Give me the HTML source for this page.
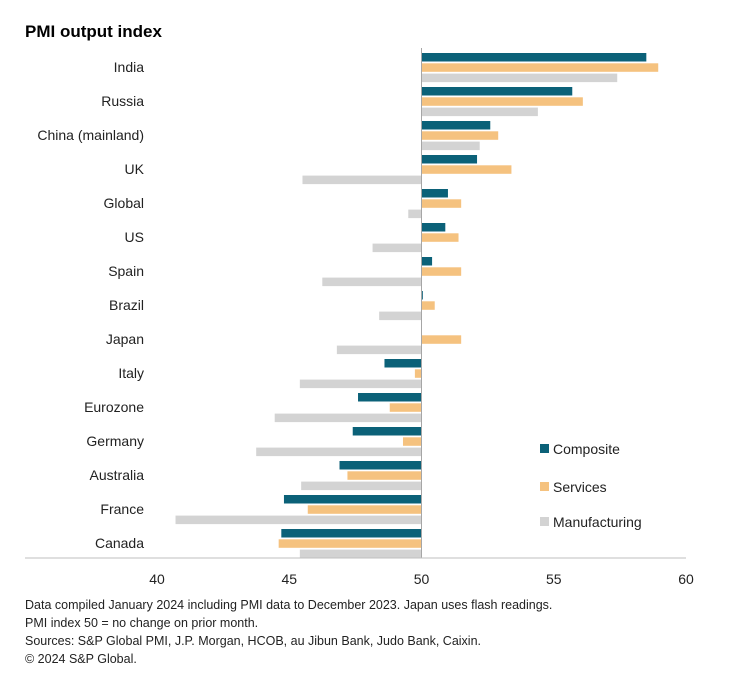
<!DOCTYPE html>
<html><head><meta charset="utf-8"><style>
body{margin:0;background:#fff;font-family:"Liberation Sans",Arial,sans-serif;}
svg text{font-family:"Liberation Sans",Arial,sans-serif;}
</style></head><body>
<svg id="chart" width="743" height="693" viewBox="0 0 743 693">
<text x="25" y="37" font-size="17" font-weight="bold" fill="#000">PMI output index</text>
<g id="bars"></g>
<line x1="25" y1="558" x2="686" y2="558" stroke="#bfbfbf" stroke-width="1"/>
<g id="ticks"></g>
<g>
<rect x="540" y="444" width="9" height="9" fill="#0b6178"/>
<text x="553" y="454" font-size="14" fill="#222">Composite</text>
<rect x="540" y="482" width="9" height="9" fill="#f5c27f"/>
<text x="553" y="492" font-size="14" fill="#222">Services</text>
<rect x="540" y="517" width="9" height="9" fill="#d3d3d3"/>
<text x="553" y="527" font-size="14" fill="#222">Manufacturing</text>
</g>
<g font-size="12.5" fill="#222">
<text x="25" y="609">Data compiled January 2024 including PMI data to December 2023. Japan uses flash readings.</text>
<text x="25" y="627">PMI index 50 = no change on prior month.</text>
<text x="25" y="645">Sources: S&amp;P Global PMI, J.P. Morgan, HCOB, au Jibun Bank, Judo Bank, Caixin.</text>
<text x="25" y="663">© 2024 S&amp;P Global.</text>
</g>
</svg>
<script>
const categories=["India","Russia","China (mainland)","UK","Global","US","Spain","Brazil","Japan","Italy","Eurozone","Germany","Australia","France","Canada"];
const composite=[58.5,55.7,52.6,52.1,51.0,50.9,50.4,50.05,50,48.6,47.6,47.4,46.9,44.8,44.7];
const services=[58.95,56.1,52.9,53.4,51.5,51.4,51.5,50.5,51.5,49.75,48.8,49.3,47.2,45.7,44.6];
const manufacturing=[57.4,54.4,52.2,45.5,49.5,48.15,46.25,48.4,46.8,45.4,44.45,43.75,45.45,40.7,45.4];
const ticks=[40,45,50,55,60];
const NS="http://www.w3.org/2000/svg";
const x=v=>157+(v-40)*(686-157)/20;
const yc=i=>67+i*34;
const bars=document.getElementById('bars');
const series=[[composite,"#0b6178","composite"],[services,"#f5c27f","services"],[manufacturing,"#d3d3d3","manufacturing"]];
categories.forEach((c,i)=>{
  const t=document.createElementNS(NS,'text');
  t.setAttribute('x',144);t.setAttribute('y',yc(i)+5);t.setAttribute('text-anchor','end');
  t.setAttribute('font-size','14');t.setAttribute('fill','#222');t.textContent=c;
  
  
  bars.appendChild(t);
  series.forEach((s,k)=>{
    const v=s[0][i];
    const r=document.createElementNS(NS,'rect');
    const x0=x(Math.min(v,50)),x1=x(Math.max(v,50));
    r.setAttribute('x',x0);r.setAttribute('width',Math.max(0,x1-x0));
    r.setAttribute('y',yc(i)-14+k*10.3);r.setAttribute('height',8.5);
    r.setAttribute('fill',s[1]);
    
    
    bars.appendChild(r);
  });
});
const zl=document.createElementNS(NS,'line');
zl.setAttribute('x1',x(50));zl.setAttribute('x2',x(50));zl.setAttribute('y1',48);zl.setAttribute('y2',558);
zl.setAttribute('stroke','#a6a6a6');zl.setAttribute('stroke-width','1');


bars.appendChild(zl);
const tg=document.getElementById('ticks');
ticks.forEach(v=>{
  const t=document.createElementNS(NS,'text');
  t.setAttribute('x',x(v));t.setAttribute('y',584);t.setAttribute('text-anchor','middle');
  t.setAttribute('font-size','14');t.setAttribute('fill','#222');t.textContent=v;
  
  
  tg.appendChild(t);
});
</script>
</body></html>
